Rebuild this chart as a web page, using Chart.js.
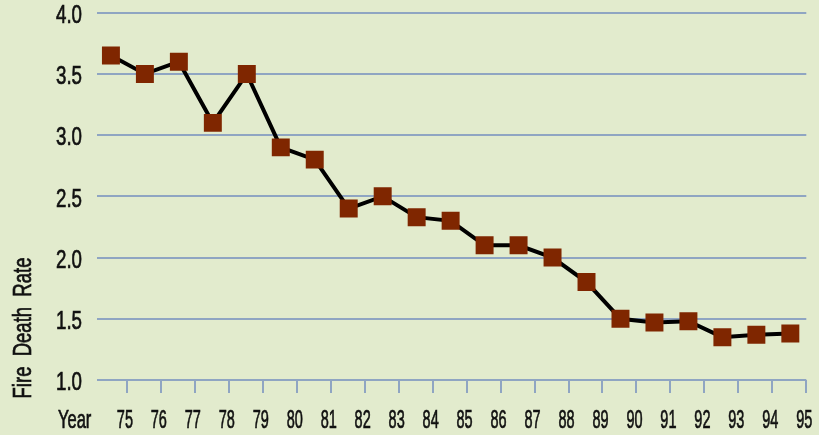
<!DOCTYPE html>
<html>
<head>
<meta charset="utf-8">
<script src="https://cdn.jsdelivr.net/npm/chart.js@4/dist/chart.umd.min.js"></script>
<style>
  html, body { margin: 0; padding: 0; background: #e2ebcd; }
  #wrap { width: 819px; height: 435px; position: relative; }
</style>
</head>
<body>
<div id="wrap"><canvas id="chart"></canvas></div>
<script>
const yearLabels = ["75", "76", "77", "78", "79", "80", "81", "82", "83", "84", "85",
  "86", "87", "88", "89", "90", "91", "92", "93", "94", "95"];
const deathRates = [3.65, 3.5, 3.6, 3.1, 3.5, 2.9, 2.8, 2.4, 2.5, 2.33, 2.3,
  2.1, 2.1, 2.0, 1.8, 1.5, 1.47, 1.48, 1.35, 1.37, 1.38];
const yTicks = [1.0, 1.5, 2.0, 2.5, 3.0, 3.5, 4.0];

const FONT = "'Liberation Sans', Arial, sans-serif";
const gridColor = "#8fa5c2";
const tickOffset = 0.47; // year ticks sit just right of each point

// the original uses a very condensed face, so the labels are drawn squeezed
function squeezed(ctx, text, x, y, size, sx, align, angle) {
  ctx.save();
  ctx.translate(x, y);
  if (angle) ctx.rotate(angle);
  ctx.scale(sx, 1);
  ctx.font = size + "px " + FONT;
  ctx.textAlign = align;
  ctx.textBaseline = "middle";
  ctx.lineWidth = 0.7;
  ctx.fillText(text, 0, 0);
  ctx.strokeText(text, 0, 0);
  ctx.restore();
}

const axisText = {
  id: "axisText",
  afterDraw(chart) {
    const ctx = chart.ctx;
    const xs = chart.scales.x;
    const ys = chart.scales.y;
    ctx.save();
    ctx.fillStyle = "#111";
    ctx.strokeStyle = "#111";
    xs.ticks.forEach((t, i) => {
      squeezed(ctx, yearLabels[i], xs.getPixelForValue(t.value) - 2, 421, 25, 0.58, "center");
    });
    ys.ticks.forEach(t => {
      squeezed(ctx, t.value.toFixed(1), 82, ys.getPixelForValue(t.value) + 3, 26, 0.72, "right");
    });
    squeezed(ctx, "Year", 58, 421, 25, 0.66, "left");
    squeezed(ctx, "Fire  Death  Rate", 24, 328, 25, 0.74, "center", -Math.PI / 2);
    ctx.restore();
  }
};

const ctx = document.getElementById("chart");
new Chart(ctx, {
  type: "line",
  data: {
    datasets: [{
      data: deathRates.map((v, i) => ({ x: i, y: v })),
      borderColor: "#000",
      borderWidth: 4,
      tension: 0,
      pointStyle: "rect",
      pointRadius: 12.7,
      pointBackgroundColor: "#7f2600",
      pointBorderWidth: 0,
      pointHoverRadius: 12.7
    }]
  },
  options: {
    responsive: true,
    maintainAspectRatio: false,
    devicePixelRatio: 1,
    animation: false,
    layout: { padding: { top: 12, right: 12, left: 0, bottom: 0 } },
    plugins: {
      legend: { display: false },
      tooltip: { enabled: false }
    },
    scales: {
      x: {
        type: "linear",
        min: -0.41,
        max: 20.47,
        afterBuildTicks(scale) {
          scale.ticks = yearLabels.map((lbl, j) => ({ value: j + tickOffset }));
        },
        afterFit(scale) { scale.height = 55; },
        border: { display: false },
        grid: {
          drawOnChartArea: false,
          drawTicks: true,
          tickLength: 13,
          color: gridColor,
          lineWidth: 2
        },
        ticks: { display: false }
      },
      y: {
        min: 1.0,
        max: 4.0,
        afterBuildTicks(scale) {
          scale.ticks = yTicks.map(v => ({ value: v }));
        },
        afterFit(scale) { scale.width = 97; },
        border: { display: false },
        grid: {
          drawTicks: false,
          color: gridColor,
          lineWidth: 2
        },
        ticks: { display: false }
      }
    }
  },
  plugins: [axisText]
});
</script>
</body>
</html>
